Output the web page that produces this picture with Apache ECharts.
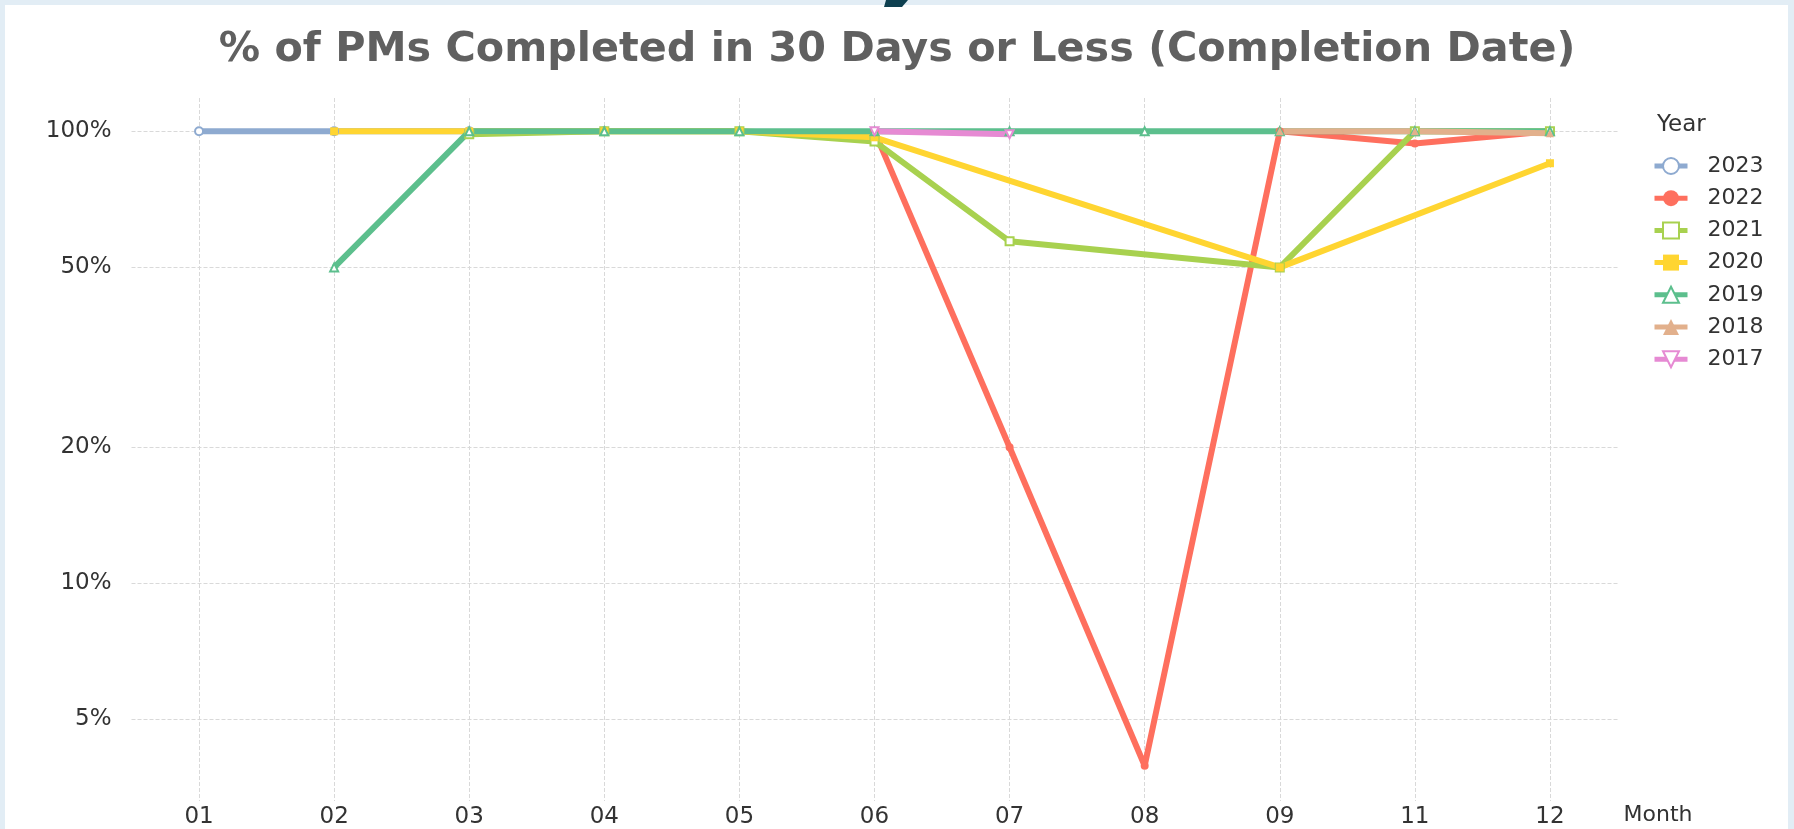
<!DOCTYPE html>
<html><head><meta charset="utf-8">
<script src="https://cdn.jsdelivr.net/npm/echarts@6/dist/echarts.min.js"></script>
<style>html,body{margin:0;padding:0;background:#fff;}#chart{width:1794px;height:829px;}</style>
</head><body><div id="chart"></div>
<script>
const months = ['01','02','03','04','05','06','07','08','09','11','12'];
const yTicks = [0.05, 0.1, 0.2, 0.5, 1];
const years = ['2023','2022','2021','2020','2019','2018','2017'];
const v2023 = [1, 1, 1, 1, null, null, null, null, null, null, null];
const v2022 = [null, null, null, null, null, 1, 0.2, 0.0395, 1, 0.94, 1];
const v2021 = [null, null, 0.985, 1, 1, 0.95, 0.571, null, 0.5, 1, 1];
const v2020 = [null, 1, 1, 1, 1, 0.97, null, null, 0.5, null, 0.85];
const v2019 = [null, 0.5, 1, 1, 1, 1, 1, 1, 1, 1, 1];
const v2018 = [null, null, null, null, null, null, null, null, 1, 1, 0.99];
const v2017 = [null, null, null, null, null, 1, 0.985, null, null, null, null];

const values = [v2023, v2022, v2021, v2020, v2019, v2018, v2017];
const colors = ['#8eaad0', '#fe6f5e', '#a8d14f', '#ffd531', '#5cbf8d', '#e2b08c', '#e68ad3'];
const symbols = ['emptyCircle', 'circle', 'emptyRect', 'rect', 'emptyTriangle', 'triangle', 'emptyTriangle'];
const rotations = [0, 0, 0, 0, 0, 0, 180];

const FONT = 'DejaVu Sans';
const chart = echarts.init(document.getElementById('chart'));

const series = years.map((y, i) => ({
  name: y,
  type: 'line',
  data: values[i],
  connectNulls: true,
  symbol: symbols[i],
  symbolRotate: rotations[i],
  symbolSize: 8,
  lineStyle: { width: 6, color: colors[i] },
  itemStyle: { color: colors[i] },
  emphasis: { disabled: true }
}));

chart.setOption({
  animation: false,
  backgroundColor: '#fff',
  textStyle: { fontFamily: FONT },
  title: [
    { text: '% of PMs Completed in 30 Days or Less (Completion Date)', left: 'center', top: 30, padding: 0,
      textStyle: { fontSize: 41.3, fontWeight: 'bold', color: '#606060', fontFamily: FONT } },
    { text: 'Year', left: 1657, top: 114, padding: 0,
      textStyle: { fontSize: 23, fontWeight: 'normal', color: '#333', fontFamily: FONT } }
  ],
  legend: {
    orient: 'vertical', left: 1652, top: 155, padding: 0,
    itemWidth: 33, itemHeight: 20, itemGap: 10.2,
    lineStyle: { width: 5 },
    textStyle: { fontSize: 22, color: '#333', fontFamily: FONT, padding: [0, 0, 0, 15] },
    data: years
  },
  grid: { left: 131.5, right: 176.5, top: 98, bottom: 27, containLabel: false },
  xAxis: {
    type: 'category', data: months, boundaryGap: true,
    axisLine: { show: false }, axisTick: { show: false, alignWithLabel: true },
    axisLabel: { fontSize: 23, color: '#333', margin: 5, fontFamily: FONT },
    splitLine: { show: true, alignWithLabel: true, lineStyle: { type: 'dashed', color: '#d9d9d9', width: 1 } },
    name: 'Month', nameLocation: 'end', nameGap: 6,
    nameTextStyle: { fontSize: 22, color: '#333', fontFamily: FONT, verticalAlign: 'top', padding: [3, 0, 0, 0] }
  },
  yAxis: {
    type: 'log', logBase: 10, min: 0.033, max: 1.185,
    axisLine: { show: false },
    axisTick: { show: false, customValues: yTicks },
    axisLabel: { customValues: yTicks, fontSize: 23, color: '#333', margin: 20, fontFamily: FONT,
      formatter: v => Math.round(v * 100) + '%' },
    splitLine: { show: true, lineStyle: { type: 'dashed', color: '#d9d9d9', width: 1 } }
  },
  graphic: [
    { type: 'rect', z: 100, silent: true, shape: { x: 0, y: 0, width: 1794, height: 5 }, style: { fill: '#e2edf5' } },
    { type: 'rect', z: 100, silent: true, shape: { x: 0, y: 0, width: 5, height: 829 }, style: { fill: '#e2edf5' } },
    { type: 'rect', z: 100, silent: true, shape: { x: 1788, y: 0, width: 6, height: 829 }, style: { fill: '#e2edf5' } },
    { type: 'polygon', z: 101, silent: true, shape: { points: [[886, 0], [908, 0], [902, 7], [884, 7]] }, style: { fill: '#0e4050' } }
  ],
  series: series
});
</script></body></html>
